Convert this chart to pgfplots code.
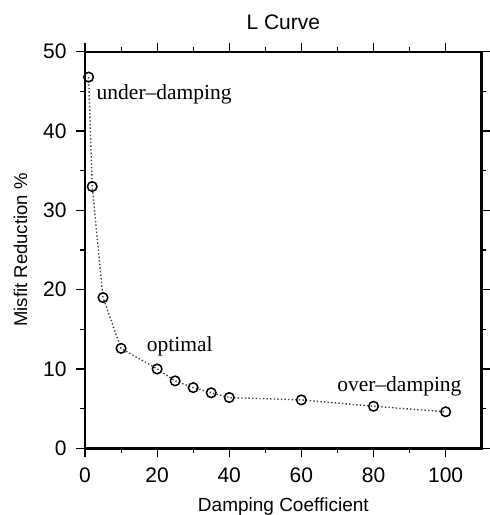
\documentclass[border=0pt]{standalone}
\usepackage{fontspec}
\setmainfont{Liberation Sans}
\newfontfamily\seriffont{Liberation Serif}
\usepackage{pgfplots}
\pgfplotsset{compat=1.18}
\begin{document}
\begin{tikzpicture}
\begin{axis}[
  at={(0pt,0pt)}, anchor=south west,
  scale only axis, width=396.7pt, height=396.6pt,
  xmin=0, xmax=110, ymin=0, ymax=50,
  xtick={0,20,...,100}, ytick={0,10,...,50},
  minor xtick={10,30,50,70,90}, minor ytick={5,15,25,35,45},
  tick align=outside,
  major tick length=9pt, minor tick length=4.5pt,
  axis line style={line width=2.4pt},
  every tick/.style={black, line width=1.1pt},
  tick label style={font=\fontsize{21}{25}\selectfont},
  yticklabel style={xshift=-6pt},
  xticklabel style={yshift=-7pt},
  /pgf/number format/assume math mode=true,
  title={L Curve},
  title style={font=\fontsize{21}{25}\selectfont, at={(axis description cs:0.5,1.0396)}, anchor=base},
  xlabel={Damping Coefficient},
  xlabel style={font=\fontsize{19}{23}\selectfont, at={(axis description cs:0.5,-0.159)}, anchor=base},
  ylabel={Misfit Reduction \%},
  ylabel style={font=\fontsize{18.5}{22}\selectfont, at={(axis description cs:-0.146,0.5)}, anchor=base},
]
\addplot[color=black!75, line width=1.4pt, dash pattern=on 1.4pt off 2.2pt, mark=o, mark size=4.8pt,
  mark options={solid, black, line width=1.5pt}] coordinates {
  (1,46.8) (2,33.0) (5,19.0) (10,12.6) (20,10.0) (25,8.5) (30,7.65) (35,7.0) (40,6.4) (60,6.1) (80,5.3) (100,4.6)
};
\node[anchor=base west, inner sep=0pt, font=\seriffont\fontsize{21.5}{25}\selectfont] at (axis cs:3.2,44.0) {under–damping};
\node[anchor=base west, inner sep=0pt, font=\seriffont\fontsize{21.5}{25}\selectfont] at (axis cs:17.1,12.2) {optimal};
\node[anchor=base west, inner sep=0pt, font=\seriffont\fontsize{21.5}{25}\selectfont] at (axis cs:69.9,7.1) {over–damping};
\end{axis}
\pgfresetboundingbox
\path[use as bounding box] (-85pt,-66.7pt) rectangle (405pt,448.3pt);
\end{tikzpicture}
\end{document}
